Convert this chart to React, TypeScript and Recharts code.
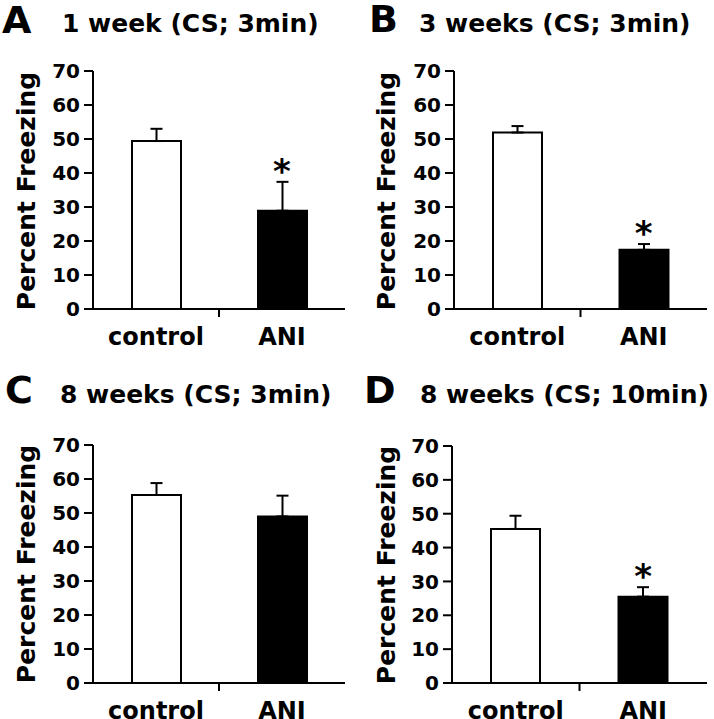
import React from 'react';
import { ComposedChart, Bar, XAxis, YAxis, ErrorBar, Line, Cell } from 'recharts';

const categories = ['control', 'ANI'];
const barFills = ['#ffffff', '#000000'];
const panelLetters = ['A', 'B', 'C', 'D'];
const panelTitles = ['1 week (CS; 3min)', '3 weeks (CS; 3min)', '8 weeks (CS; 3min)', '8 weeks (CS; 10min)'];
const yAxisLabel = 'Percent Freezing';
const yTicks = [0, 10, 20, 30, 40, 50, 60, 70];

const meansA = [49.4, 28.9];
const errsA = [3.6, 8.5];
const sigA = [false, true];

const meansB = [51.9, 17.4];
const errsB = [1.9, 1.7];
const sigB = [false, true];

const meansC = [55.3, 49.0];
const errsC = [3.5, 6.1];
const sigC = [false, false];

const meansD = [45.5, 25.5];
const errsD = [3.9, 2.8];
const sigD = [false, true];

const FONT = '"DejaVu Sans", sans-serif';
const LABEL_GAP = 19;

function buildRows(means: number[], errs: number[], sig: boolean[]) {
  return categories.map((c, i) => ({
    name: c,
    mean: means[i],
    err: [0, errs[i]],
    top: means[i] + errs[i],
    sig: sig[i],
  }));
}

const panels = [
  { rows: buildRows(meansA, errsA, sigA), left: 0, top: 0, w: 357, h: 360, yw: 93, pt: 71, pb: 309, re: 345,
    letterX: 2, letterY: 33, titleX: 62, titleY: 32, labX: 35, labY: 191 },
  { rows: buildRows(meansB, errsB, sigB), left: 357, top: 0, w: 357, h: 360, yw: 97, pt: 71, pb: 309, re: 350,
    letterX: 12, letterY: 32, titleX: 62, titleY: 32, labX: 38, labY: 191 },
  { rows: buildRows(meansC, errsC, sigC), left: 0, top: 360, w: 357, h: 359, yw: 93, pt: 85, pb: 323, re: 345,
    letterX: 5, letterY: 43, titleX: 60, titleY: 43, labX: 35, labY: 204 },
  { rows: buildRows(meansD, errsD, sigD), left: 357, top: 360, w: 357, h: 359, yw: 95, pt: 86, pb: 323, re: 350,
    letterX: 7, letterY: 43, titleX: 63, titleY: 43, labX: 38, labY: 205 },
];

const Star = (p: any) => {
  if (!p.payload || !p.payload.sig) return <g key={`s-${p.index}`} />;
  return (
    <text key={`s-${p.index}`} x={p.cx} y={p.cy + 1} textAnchor="middle" fontSize={34}
      fontWeight="bold" fontFamily={FONT} fill="#000">*</text>
  );
};

const CatTick = (props: any) => {
  const { x, y, payload, index } = props;
  const axisY = y - LABEL_GAP;
  const off = payload && typeof payload.offset === 'number' ? payload.offset : 0;
  return (
    <g>
      <text x={x} y={y} dy="0.71em" textAnchor="middle" fontSize={24} fontWeight="bold" fontFamily={FONT} fill="#000">
        {payload.value}
      </text>
      {index === 0 && off > 0 ? (
        <line x1={x + off} x2={x + off} y1={axisY} y2={axisY + 8} stroke="#000" strokeWidth={2} />
      ) : null}
    </g>
  );
};

function Panel({ cfg, idx }: { cfg: any; idx: number }) {
  const xh = cfg.h - cfg.pb;
  return (
    <div style={{ position: 'absolute', left: cfg.left, top: cfg.top, width: cfg.w, height: cfg.h }}>
      <ComposedChart
        width={cfg.w}
        height={cfg.h}
        data={cfg.rows}
        margin={{ top: cfg.pt, right: cfg.w - cfg.re, left: 0, bottom: 0 }}
        style={{ overflow: 'visible' }}
      >
        <XAxis dataKey="name" height={xh} interval={0}
          axisLine={{ stroke: '#000', strokeWidth: 2 }} tickLine={false} tickSize={0} tickMargin={LABEL_GAP}
          tick={CatTick} />
        <YAxis domain={[0, 70]} ticks={yTicks} width={cfg.yw} interval={0} allowDataOverflow
          axisLine={{ stroke: '#000', strokeWidth: 2 }} tickLine={{ stroke: '#000', strokeWidth: 2 }}
          tickSize={9} tickMargin={4}
          tick={{ fill: '#000', fontSize: 20, fontWeight: 'bold', fontFamily: FONT }} />
        <Bar dataKey="mean" barSize={49} stroke="#000" strokeWidth={2} isAnimationActive={false}>
          {cfg.rows.map((r: any, i: number) => (
            <Cell key={r.name} fill={barFills[i]} />
          ))}
          <ErrorBar dataKey="err" direction="y" width={6} stroke="#000" strokeWidth={2} isAnimationActive={false} />
        </Bar>
        <Line dataKey="top" stroke="none" dot={Star} activeDot={false} isAnimationActive={false} legendType="none" />
      </ComposedChart>
      <svg width={cfg.w} height={cfg.h} style={{ position: 'absolute', left: 0, top: 0, pointerEvents: 'none' }}>
        <text x={cfg.letterX} y={cfg.letterY} fontSize={38} fontWeight="bold" fontFamily={FONT} fill="#000">
          {panelLetters[idx]}
        </text>
        <text x={cfg.titleX} y={cfg.titleY} fontSize={25} fontWeight="bold" fontFamily={FONT} fill="#000">
          {panelTitles[idx]}
        </text>
        <text x={cfg.labX} y={cfg.labY} transform={`rotate(-90 ${cfg.labX} ${cfg.labY})`} textAnchor="middle"
          fontSize={25} fontWeight="bold" fontFamily={FONT} fill="#000">
          {yAxisLabel}
        </text>
      </svg>
    </div>
  );
}

export default function App() {
  return (
    <div style={{ position: 'absolute', left: 0, top: 0, width: 714, height: 719, background: '#fff', overflow: 'hidden' }}>
      {panels.map((cfg, i) => (
        <Panel key={i} cfg={cfg} idx={i} />
      ))}
    </div>
  );
}
